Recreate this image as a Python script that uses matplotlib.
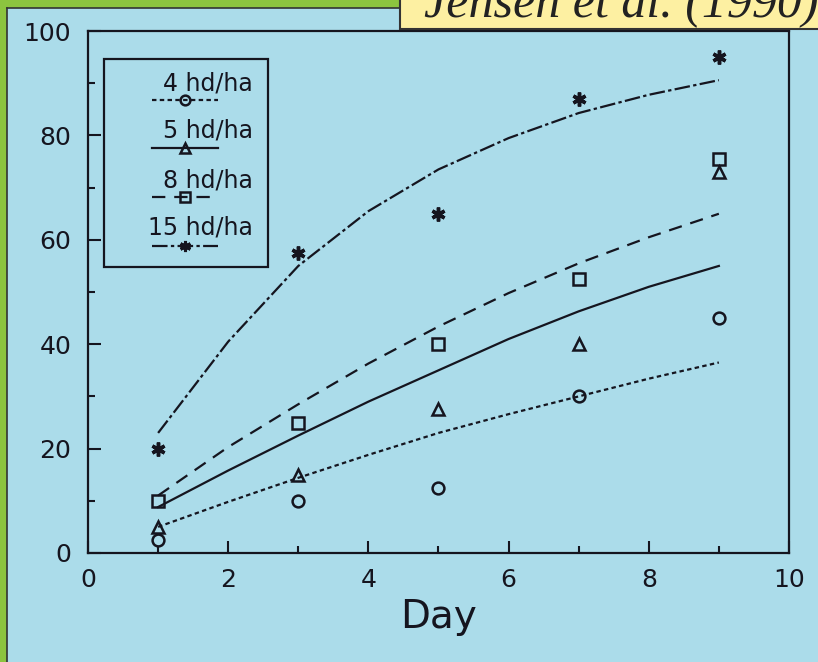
import matplotlib
matplotlib.use('Agg')
import matplotlib.pyplot as plt
from matplotlib.lines import Line2D
from matplotlib.patches import Rectangle
from matplotlib.ticker import MultipleLocator

days = [1, 3, 5, 7, 9]
obs_4 = [2.5, 10, 12.5, 30, 45]
obs_5 = [5, 15, 27.5, 40, 73]
obs_8 = [10, 25, 40, 52.5, 75.5]
obs_15 = [20, 57.5, 65, 87, 95]

# fitted curves (at each day)
fit_days = [1, 2, 3, 4, 5, 6, 7, 8, 9]
fit_4 = [5, 9.8, 14.4, 18.8, 23, 26.6, 30, 33.4, 36.5]
fit_5 = [8.8, 15.8, 22.5, 29, 35, 41, 46.3, 51, 55]
fit_8 = [11, 20.3, 28.5, 36.3, 43.4, 49.8, 55.5, 60.5, 65]
fit_15 = [23, 40.5, 55, 65.5, 73.5, 79.5, 84.3, 87.8, 90.6]

labels = ['4 hd/ha', '5 hd/ha', '8 hd/ha', '15 hd/ha']

bg = '#abdcea'
ink = '#15151f'
green = '#8cc43f'

fig = plt.figure(figsize=(8.18, 6.62), dpi=100, facecolor=bg)
ax = fig.add_axes([0.1076, 0.1647, 0.8569, 0.7883])
ax.set_facecolor(bg)

styles = [
    dict(ls=(0, (2, 1.5)), marker='o'),
    dict(ls='-', marker='^'),
    dict(ls=(0, (6, 4)), marker='s'),
    dict(ls=(0, (7, 1.5, 1.5, 1.5)), marker=(6, 2, 0)),
]
fits = [fit_4, fit_5, fit_8, fit_15]
obs = [obs_4, obs_5, obs_8, obs_15]

for st, f, o in zip(styles, fits, obs):
    ax.plot(fit_days, f, color=ink, lw=1.6, ls=st['ls'])
    if st['marker'] == (6, 2, 0):
        ax.plot(days, o, ls='none', marker=st['marker'], ms=10, mew=2.5, color=ink)
    else:
        ax.plot(days, o, ls='none', marker=st['marker'], ms=8.5, mew=1.8,
                mfc='none', mec=ink)

ax.set_xlim(0, 10)
ax.set_ylim(0, 100)
ax.xaxis.set_major_locator(MultipleLocator(2))
ax.xaxis.set_minor_locator(MultipleLocator(1))
ax.yaxis.set_major_locator(MultipleLocator(20))
ax.yaxis.set_minor_locator(MultipleLocator(10))
ax.tick_params(which='both', direction='in', top=False, right=False,
               color=ink, width=1.5, labelsize=18, labelcolor=ink)
ax.tick_params(which='major', length=9)
ax.tick_params(which='minor', length=5)
ax.tick_params(axis='x', pad=11)
ax.tick_params(axis='y', pad=12)
for sp in ax.spines.values():
    sp.set_color(ink)
    sp.set_linewidth(1.6)
ax.set_xlabel('Day', fontsize=28, color=ink, labelpad=4)

# legend box drawn by hand: label above a short line sample
tr = ax.transAxes
ax.add_patch(Rectangle((0.0228, 0.5479), 0.234, 0.3985, transform=tr,
                       fill=False, ec=ink, lw=1.6, zorder=5))
text_y = [0.9004, 0.8103, 0.7146, 0.6245]
line_y = [0.8678, 0.7759, 0.682, 0.5881]
for st, lab, ty, ly in zip(styles, labels, text_y, line_y):
    ax.text(0.2354, ty, lab, transform=tr, ha='right', va='center',
            fontsize=17, color=ink, zorder=6)
    ax.add_line(Line2D([0.0913, 0.1854], [ly, ly], transform=tr, color=ink,
                       lw=1.6, ls=st['ls'], zorder=6))
    if st['marker'] == (6, 2, 0):
        ax.add_line(Line2D([0.138], [ly], transform=tr, marker=st['marker'],
                           ms=8, mew=2.2, color=ink, zorder=7))
    else:
        ax.add_line(Line2D([0.138], [ly], transform=tr, marker=st['marker'],
                           ms=7, mew=1.8, mfc='none', mec=ink, zorder=7))

# slide decoration: green edges and the citation box
fig.patches.append(Rectangle((0, 0), 7 / 818, 1, transform=fig.transFigure,
                             fc=green, ec='none'))
fig.patches.append(Rectangle((0, 1 - 8 / 662), 1, 8 / 662,
                             transform=fig.transFigure, fc=green, ec='none'))
fig.add_artist(Line2D([7 / 818, 7 / 818], [0, 1 - 8 / 662],
                      transform=fig.transFigure, color='#333333', lw=1.2))
fig.add_artist(Line2D([7 / 818, 1], [1 - 8 / 662, 1 - 8 / 662],
                      transform=fig.transFigure, color='#333333', lw=1.2))
fig.patches.append(Rectangle((400 / 818, 1 - 29 / 662), 0.6, 0.1,
                             transform=fig.transFigure, fc='#fdf0a2',
                             ec='#333333', lw=1.5, zorder=3))
fig.text(424 / 818, 1 - 17 / 662, 'Jensen et al. (1990)', ha='left',
         va='baseline', fontsize=36, style='italic',
         family='Liberation Serif', color='#222222', zorder=4)

fig.savefig('out.png', dpi=100, facecolor=bg)
